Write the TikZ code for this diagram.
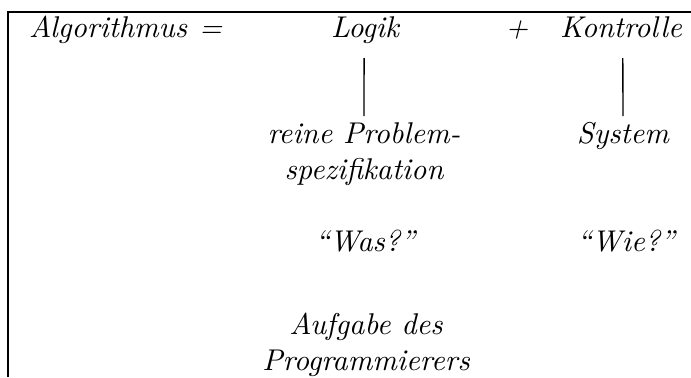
\documentclass[tikz,border=0pt]{standalone}
\begin{document}
\begin{tikzpicture}[x=0.33333pt,y=-0.33333pt,
  lbl/.style={inner sep=0pt,outer sep=0pt,anchor=base,font=\itshape},
  conn/.style={line width=0.45pt}]
\useasboundingbox (0,0) rectangle (691,377);
% table frame
\coordinate (tl) at (8,12);
\coordinate (tr) at (691,12);
\coordinate (bl) at (8,377);
\draw[conn] (tr) -- (tl) -- (bl);
% first row
\node[lbl,anchor=base west] (alg) at (29,37) {Algorithmus\hspace{4pt}=};
\node[lbl] (logik) at (365,37) {Logik};
\node[lbl] (plus) at (517,37) {+};
\node[lbl] (kontrolle) at (621,37) {Kontrolle};
% second row
\node[lbl] (reine) at (364,143) {reine Problem-};
\node[lbl] (spez) at (364,179) {spezifikation};
\node[lbl] (system) at (623,143) {System};
% third row
\node[lbl] (was) at (365,251) {``Was?''};
\node[lbl] (wie) at (626,251) {``Wie?''};
% fourth row
\node[lbl] (aufg) at (366,334) {Aufgabe des};
\node[lbl] (prog) at (366,370) {Programmierers};
% connectors
\draw[conn] ([xshift=-0.3pt,yshift=-7pt]logik.base) -- ([yshift=9pt]reine.base);
\draw[conn] ([xshift=0.6pt,yshift=-7pt]kontrolle.base) -- ([yshift=9pt]system.base);
\end{tikzpicture}
\end{document}
